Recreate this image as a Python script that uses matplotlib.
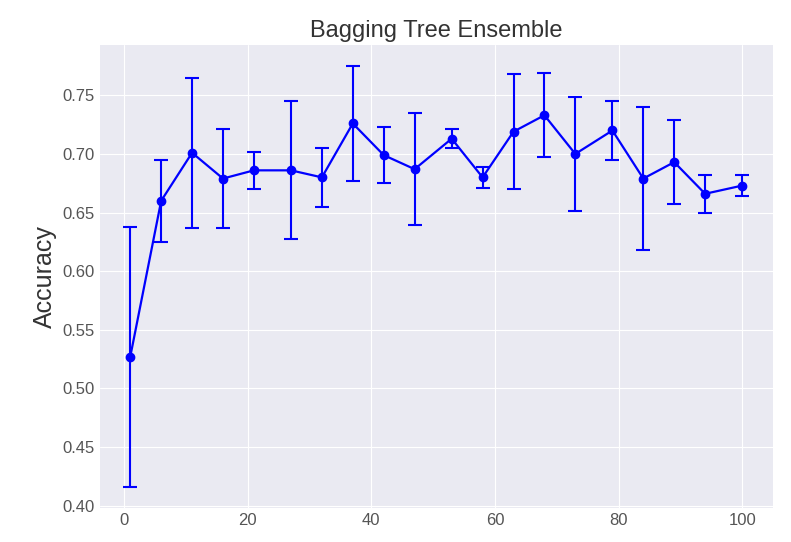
import matplotlib
matplotlib.use("Agg")
import matplotlib.pyplot as plt

# Nombre d'arbres et précision moyenne / écart-type
n_arbres = [1, 6, 11, 16, 21, 27, 32, 37, 42, 47, 53, 58, 63, 68, 73, 79, 84, 89, 94, 100]
precision = [0.527, 0.660, 0.701, 0.679, 0.686, 0.686, 0.680, 0.726, 0.699, 0.687,
             0.713, 0.680, 0.719, 0.733, 0.700, 0.720, 0.679, 0.693, 0.666, 0.673]
ecart = [0.111, 0.035, 0.064, 0.042, 0.016, 0.059, 0.025, 0.049, 0.024, 0.048,
         0.008, 0.009, 0.049, 0.036, 0.049, 0.025, 0.061, 0.036, 0.016, 0.009]

plt.style.use("seaborn-v0_8-darkgrid")
fig = plt.figure(figsize=(7.91, 5.42), dpi=100)
ax = fig.add_axes([0.126, 0.063, 0.851, 0.854])

ax.errorbar(n_arbres, precision, yerr=ecart, color="blue", marker="o",
            markersize=6, capsize=5, capthick=1.5, linewidth=1.6, elinewidth=1.5)

ax.set_title("Bagging Tree Ensemble", fontsize=17, color="#333333")
ax.set_ylabel("Accuracy", fontsize=18, color="#333333")
ax.tick_params(labelsize=12, colors="#555555")

fig.savefig("out.png", dpi=100)
